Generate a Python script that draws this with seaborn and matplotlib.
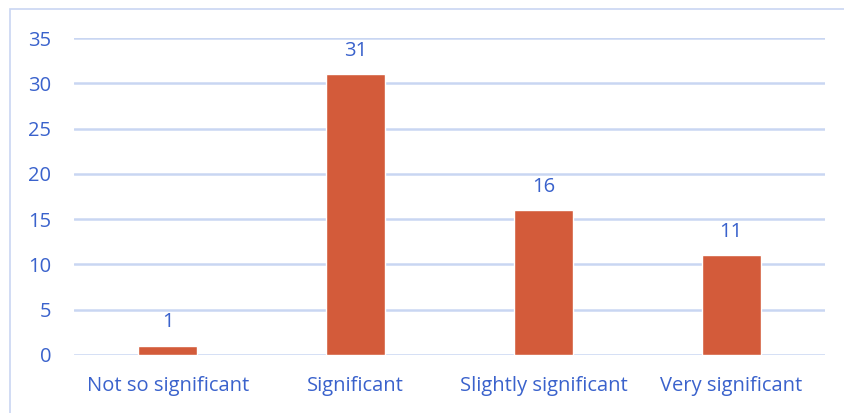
import matplotlib
matplotlib.use("Agg")
import matplotlib.pyplot as plt
from matplotlib.patches import Rectangle
import seaborn as sns
import pandas as pd

categories = ["Not so significant", "Significant", "Slightly significant", "Very significant"]
counts = [1, 31, 16, 11]
y_ticks = [0, 5, 10, 15, 20, 25, 30, 35]

BAR = "#D35B3A"
TEXT = "#3A62CC"
GRID = "#C9D6F2"
FS = 14.5

sns.set_theme(style="white")
plt.rcParams["font.family"] = ["Open Sans", "DejaVu Sans"]

df = pd.DataFrame({"category": categories, "count": counts})

W, H = 844, 413
fig = plt.figure(figsize=(W / 100, H / 100), dpi=100)
ax = fig.add_axes([74 / W, 1 - 355 / H, (825 - 74) / W, (355 - 38) / H])

sns.barplot(data=df, x="category", y="count", color=BAR, width=0.315,
            saturation=1, ax=ax, zorder=3)

ax.set_ylim(0, 35)
ax.set_xlim(-0.5, 3.5)
ax.set_yticks(y_ticks)
for t in y_ticks:
    ax.axhline(t, color=GRID, lw=1.8, zorder=1)

for s in ax.spines.values():
    s.set_visible(False)
ax.tick_params(axis="both", length=0, colors=TEXT, labelsize=FS)
ax.tick_params(axis="y", pad=16.5)
ax.tick_params(axis="x", pad=15)
ax.set_xlabel("")
ax.set_ylabel("")

for i, v in enumerate(counts):
    ax.text(i, v + 1.5, str(v), ha="center", va="bottom", color=TEXT, fontsize=FS)

# outer chart frame
fig.patches.append(Rectangle((10 / W, -0.1), 1.2, 1 - 9 / H + 0.1,
                             transform=fig.transFigure, fill=False,
                             edgecolor=GRID, lw=1.2))

fig.savefig("out.png", dpi=100)
